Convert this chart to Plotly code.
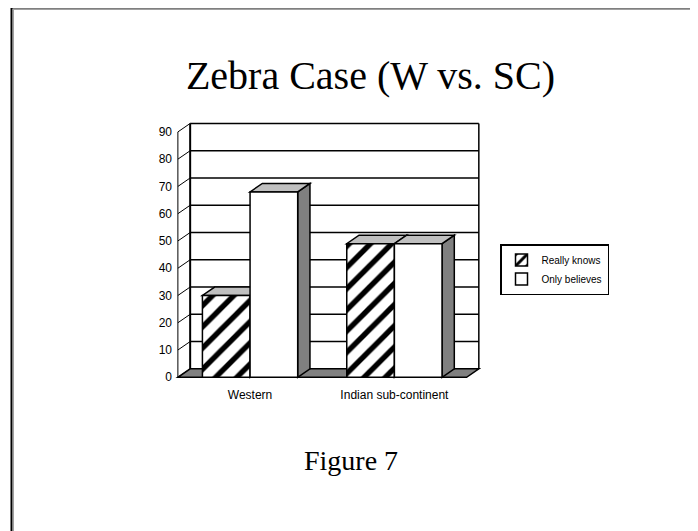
import plotly.graph_objects as go

# ---- data ----
categories = ["Western", "Indian sub-continent"]
series_names = ["Really knows", "Only believes"]
really_knows = [30, 49]
only_believes = [68, 49]
y_ticks = [0, 10, 20, 30, 40, 50, 60, 70, 80, 90]
title_text = "Zebra Case (W vs. SC)"
caption_text = "Figure 7"

# ---- layout constants (style) ----
W, H = 698, 531
OFF = 8                      # page body margin of the host page
PW, PH = 306, 259            # plot area size in px
L = 175 - OFF
T = 121 - OFF
R = W - L - PW
B = H - T - PH
XR = [-0.52, 1.60]
YR = [-1, 94]
DX, DY = 0.085, 3.1          # pseudo-3D depth offset (x units, y units)
BARGAP = 0.34
SIDE = "#808080"
TOP = "#c0c0c0"


def px_to_paper_x(px):
    return (px - OFF - L) / PW


def px_to_paper_y(py):
    return 1 - (py - OFF - T) / PH


def px_to_cont_x(px):
    return (px - OFF) / W


def px_to_cont_y(py):
    return 1 - (py - OFF) / H


def path(points):
    return "M " + " L ".join(f"{x},{y}" for x, y in points) + " Z"


series = [really_knows, only_believes]
xs = list(range(len(categories)))
n = len(series)
bw = (1 - BARGAP) / n
ymax = max(y_ticks)
x_left, x_right = -0.5, len(categories) - 0.5

shapes = []
line_k = dict(color="black", width=1.5)

# back wall lines
shapes.append(dict(type="line", xref="x", yref="y", x0=x_left + DX, x1=x_left + DX,
                   y0=DY, y1=ymax + DY, line=dict(color="black", width=2), layer="below"))
shapes.append(dict(type="line", xref="x", yref="y", x0=x_right + DX, x1=x_right + DX,
                   y0=DY, y1=ymax + DY, line=dict(color="black", width=1.5), layer="below"))
for v in y_ticks:
    shapes.append(dict(type="line", xref="x", yref="y", x0=x_left + DX, x1=x_right + DX,
                       y0=v + DY, y1=v + DY, line=line_k, layer="below"))
    shapes.append(dict(type="line", xref="x", yref="y", x0=x_left, x1=x_left + DX,
                       y0=v, y1=v + DY, line=dict(color="black", width=1), layer="below"))
# front axis line
shapes.append(dict(type="line", xref="x", yref="y", x0=x_left, x1=x_left,
                   y0=0, y1=ymax, line=dict(color="black", width=1), layer="below"))
# floor
shapes.append(dict(type="path", xref="x", yref="y",
                   path=path([(x_left, 0), (x_right, 0), (x_right + DX, DY), (x_left + DX, DY)]),
                   fillcolor=SIDE, line=dict(color="black", width=1.5), layer="below"))

# bar side and top faces
for g in xs:
    for i, s in enumerate(series):
        v = s[g]
        x0 = g - (1 - BARGAP) / 2 + i * bw
        x1 = x0 + bw
        shapes.append(dict(type="path", xref="x", yref="y",
                           path=path([(x1, 0), (x1 + DX, DY), (x1 + DX, v + DY), (x1, v)]),
                           fillcolor=SIDE, line=dict(color="black", width=1.5), layer="below"))
        shapes.append(dict(type="path", xref="x", yref="y",
                           path=path([(x0, v), (x1, v), (x1 + DX, v + DY), (x0 + DX, v + DY)]),
                           fillcolor=TOP, line=dict(color="black", width=1.5), layer="below"))

# outer frame (top and left edge with grey shadow)
fx, fy = px_to_paper_x(11.5), px_to_paper_y(7.5)
shapes.append(dict(type="line", xref="paper", yref="paper", x0=fx, x1=px_to_paper_x(730),
                   y0=fy, y1=fy, line=dict(color="black", width=2)))
shapes.append(dict(type="line", xref="paper", yref="paper", x0=px_to_paper_x(13), x1=px_to_paper_x(730),
                   y0=px_to_paper_y(9.5), y1=px_to_paper_y(9.5), line=dict(color="#a0a0a0", width=1)))
shapes.append(dict(type="line", xref="paper", yref="paper", x0=fx, x1=fx,
                   y0=fy, y1=px_to_paper_y(570), line=dict(color="black", width=2)))
shapes.append(dict(type="line", xref="paper", yref="paper", x0=px_to_paper_x(13.5), x1=px_to_paper_x(13.5),
                   y0=px_to_paper_y(9), y1=px_to_paper_y(570), line=dict(color="#a0a0a0", width=1)))

fig = go.Figure()
fig.add_trace(go.Bar(
    x=xs, y=really_knows, name=series_names[0],
    marker=dict(color="white",
                pattern=dict(shape="/", fgcolor="#000000", bgcolor="#ffffff", fgopacity=1,
                             size=15, solidity=0.36, fillmode="replace"),
                line=dict(color="black", width=1.5)),
))
fig.add_trace(go.Bar(
    x=xs, y=only_believes, name=series_names[1],
    marker=dict(color="white", line=dict(color="black", width=1.5)),
))

tick_font = dict(family="Liberation Sans", size=12, color="black")

fig.update_layout(
    width=W, height=H, autosize=False,
    margin=dict(l=L, r=R, t=T, b=B, autoexpand=False),
    paper_bgcolor="white", plot_bgcolor="white",
    barmode="group", bargap=BARGAP, bargroupgap=0,
    shapes=shapes,
    showlegend=True,
    legend=dict(
        x=px_to_cont_x(500), y=px_to_cont_y(244), xref="container", yref="container",
        xanchor="left", yanchor="top",
        bgcolor="white", bordercolor="black", borderwidth=1.5,
        font=dict(family="Liberation Sans", size=10, color="black"),
        itemwidth=30, tracegroupgap=0, traceorder="normal",
    ),
    title=dict(
        text=title_text, x=px_to_cont_x(370.5), xref="container", xanchor="center",
        y=px_to_cont_y(75), yref="container", yanchor="middle",
        font=dict(family="Liberation Serif", size=40, color="black"),
    ),
    annotations=[dict(
        text=caption_text, xref="paper", yref="paper",
        x=px_to_paper_x(351), y=px_to_paper_y(460), xanchor="center", yanchor="middle",
        showarrow=False, font=dict(family="Liberation Serif", size=28, color="black"),
    )],
    xaxis=dict(range=XR, tickvals=xs, ticktext=categories, showgrid=False, zeroline=False,
               showline=False, ticks="", ticklabelstandoff=6, tickfont=tick_font, fixedrange=True),
    yaxis=dict(range=YR, tickvals=y_ticks, showgrid=False, zeroline=False, showline=False,
               ticks="", ticklabelstandoff=2, tickfont=tick_font, fixedrange=True),
)

fig.write_html("out.html")
